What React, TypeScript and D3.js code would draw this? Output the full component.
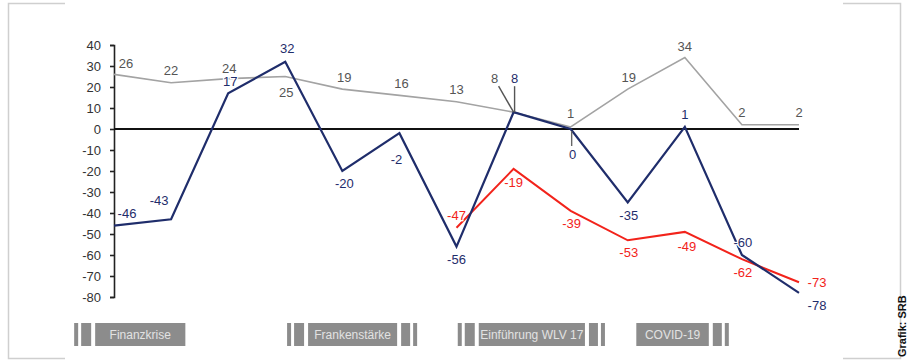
import { useEffect, useRef } from 'react';
import * as d3 from 'd3';

const width = 908;
const height = 362;
const blue = '#1f2d6b';
const red = '#f2231b';
const grey = '#a3a3a3';
const font = '"Liberation Sans", Arial, sans-serif';

// 13 Messpunkte, ohne Achsenbeschriftung
const points = d3.range(13);
const greyValues = [26, 22, 24, 25, 19, 16, 13, 8, 1, 19, 34, 2, 2];
const blueValues = [-46, -43, 17, 32, -20, -2, -56, 8, 0, -35, 1, -60, -78];
const redStart = 6;
const redValues = [-47, -19, -39, -53, -49, -62, -73];
const yTicks = [40, 30, 20, 10, 0, -10, -20, -30, -40, -50, -60, -70, -80];

const periodNames = ['Finanzkrise', 'Frankenstärke', 'Einführung WLV 17', 'COVID-19'];
const periodFrom = [-0.33, 3.4, 6.39, 9.15];
const periodTo = [1.25, 4.96, 8.25, 10.42];

// label offsets [dx, dy] relative to the point
const greyOff = [[12, -6], [0, -8], [1, -6], [1, 20], [2, -7], [2, -7], [0, -8], [-19, -29], [0, -9], [1, -7], [0, -7], [0, -8], [0, -8]];
const blueOff = [[13, -8], [-12, -14], [2, -7], [2, -9], [2, 17], [-3, 31], [0, 17], [1, -29], [2, 30], [1, 17], [0, -8], [1, -8], [18, 17]];
const redOff = [[0, -8], [0, 18], [1, 17], [1, 17], [2, 19], [1, 18], [18, 5]];

export default function App() {
    const ref = useRef<SVGSVGElement>(null);

    useEffect(() => {
        const svg = d3.select(ref.current);
        svg.selectAll('*').remove();

        const x = d3.scaleLinear().domain([0, points.length - 1]).range([114, 799]);
        const y = d3.scaleLinear().domain([40, -80]).range([45, 297]);

        // frame brackets
        const frame = svg.append('g').attr('fill', 'none').attr('stroke', '#cfcfcf').attr('stroke-width', 1.5);
        frame.append('path').attr('d', 'M65,3.5H8.5V358.5H65');
        frame.append('path').attr('d', 'M843,3.5H900.5V358.5H843');

        // y axis
        const yAxis = d3.axisLeft(y).tickValues(yTicks).tickSize(4).tickPadding(9).tickFormat(d => `${d}`);
        const ax = svg.append('g').attr('transform', 'translate(114,0)').call(yAxis);
        ax.select('.domain').attr('stroke', '#222').attr('stroke-width', 1.6);
        ax.selectAll('.tick line').attr('stroke', '#222').attr('stroke-width', 1.6);
        ax.selectAll('.tick text').attr('fill', '#333').style('font-family', font).style('font-size', '13px');

        // zero line
        svg.append('line').attr('x1', x(0)).attr('x2', x(12)).attr('y1', y(0)).attr('y2', y(0))
            .attr('stroke', '#111').attr('stroke-width', 2);

        const line = d3.line<number>().x((_, i) => x(i)).y(d => y(d));
        const redLine = d3.line<number>().x((_, i) => x(i + redStart)).y(d => y(d));

        svg.append('path').attr('d', line(greyValues)).attr('fill', 'none').attr('stroke', grey).attr('stroke-width', 1.6);
        svg.append('path').attr('d', redLine(redValues)).attr('fill', 'none').attr('stroke', red).attr('stroke-width', 2);
        svg.append('path').attr('d', line(blueValues)).attr('fill', 'none').attr('stroke', blue).attr('stroke-width', 2.2);

        // leader lines
        const lead = svg.append('g').attr('stroke-width', 1.4);
        lead.append('line').attr('x1', x(7)).attr('y1', y(greyValues[7])).attr('x2', x(7) - 15).attr('y2', y(greyValues[7]) - 26).attr('stroke', '#555');
        lead.append('line').attr('x1', x(7) + 1).attr('y1', y(blueValues[7])).attr('x2', x(7) + 1).attr('y2', y(blueValues[7]) - 26).attr('stroke', '#555');
        lead.append('line').attr('x1', x(8) + 1).attr('y1', y(blueValues[8]) + 2).attr('x2', x(8) + 1).attr('y2', y(blueValues[8]) + 17).attr('stroke', '#666');

        const labels = (vals: number[], offs: number[][], start: number, color: string) => {
            svg.append('g').selectAll('text').data(vals).join('text')
                .attr('x', (_, i) => x(i + start) + offs[i][0])
                .attr('y', (d, i) => y(d) + offs[i][1])
                .attr('text-anchor', 'middle')
                .attr('fill', color)
                .attr('stroke', 'white').attr('stroke-width', 2.5).attr('paint-order', 'stroke')
                .style('font-family', font).style('font-size', '13px')
                .text(d => `${d}`);
        };
        labels(greyValues, greyOff, 0, '#555');
        labels(redValues, redOff, redStart, red);
        labels(blueValues, blueOff, 0, blue);

        // period bands
        const band = svg.append('g').attr('fill', '#8c8c8c');
        const by = 323, bh = 23;
        periodNames.forEach((name, i) => {
            const x0 = x(periodFrom[i]);
            const x1 = x(periodTo[i]);
            band.append('rect').attr('x', x0).attr('y', by).attr('width', x1 - x0).attr('height', bh);
            if (i < 3) {
                band.append('rect').attr('x', x0 - 14).attr('y', by).attr('width', 10).attr('height', bh);
                band.append('rect').attr('x', x0 - 21).attr('y', by).attr('width', 4).attr('height', bh);
            }
            if (i > 0) {
                band.append('rect').attr('x', x1 + 4).attr('y', by).attr('width', 9).attr('height', bh);
                band.append('rect').attr('x', x1 + 16).attr('y', by).attr('width', 4).attr('height', bh);
            }
            svg.append('text').attr('x', (x0 + x1) / 2).attr('y', by + 16).attr('text-anchor', 'middle')
                .attr('fill', '#e2e2e2').style('font-family', font).style('font-size', '12px').text(name);
        });

        // source
        svg.append('text').attr('transform', 'translate(906,357) rotate(-90)')
            .attr('fill', '#111').style('font-family', font).style('font-size', '11px').style('font-weight', 'bold')
            .text('Grafik: SRB');
    }, []);

    return (
        <svg ref={ref} width={width} height={height}
            style={{ position: 'absolute', left: 0, top: 0, background: 'white' }} />
    );
}
